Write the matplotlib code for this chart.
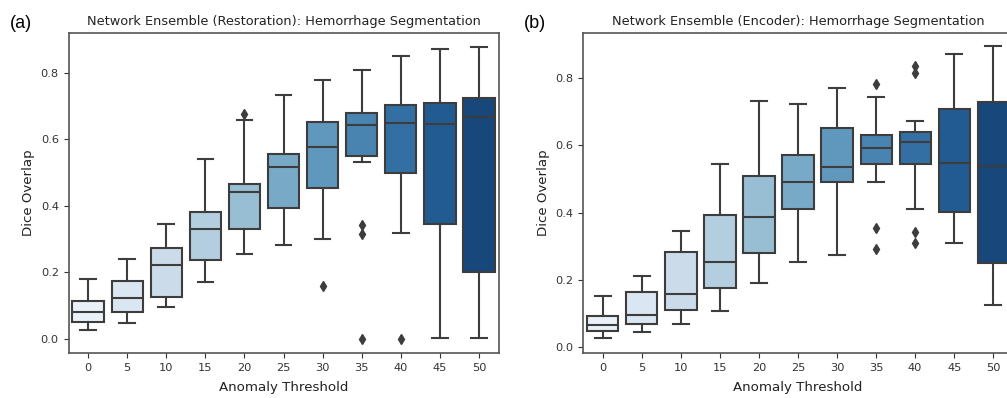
import matplotlib
matplotlib.use("Agg")
import matplotlib.pyplot as plt
import seaborn as sns

thresholds = [0, 5, 10, 15, 20, 25, 30, 35, 40, 45, 50]

# Panel (a): Restoration
a_whislo = [0.027, 0.047, 0.095, 0.171, 0.254, 0.283, 0.301, 0.533, 0.317, 0.002, 0.002]
a_q1     = [0.052, 0.081, 0.126, 0.238, 0.329, 0.393, 0.454, 0.550, 0.499, 0.344, 0.202]
a_med    = [0.080, 0.124, 0.223, 0.329, 0.441, 0.518, 0.577, 0.643, 0.648, 0.645, 0.667]
a_q3     = [0.114, 0.174, 0.274, 0.382, 0.466, 0.555, 0.651, 0.679, 0.703, 0.709, 0.723]
a_whishi = [0.181, 0.239, 0.346, 0.541, 0.659, 0.734, 0.778, 0.807, 0.849, 0.870, 0.877]
a_fliers = [[], [], [], [], [0.675], [], [0.158], [0.342, 0.315, 0.0], [0.0], [], []]

# Panel (b): Encoder
b_whislo = [0.027, 0.045, 0.068, 0.107, 0.192, 0.252, 0.275, 0.490, 0.412, 0.311, 0.126]
b_q1     = [0.048, 0.068, 0.112, 0.177, 0.281, 0.410, 0.490, 0.546, 0.544, 0.402, 0.249]
b_med    = [0.066, 0.097, 0.159, 0.252, 0.386, 0.490, 0.535, 0.593, 0.611, 0.549, 0.538]
b_q3     = [0.094, 0.163, 0.284, 0.392, 0.508, 0.570, 0.653, 0.632, 0.641, 0.708, 0.728]
b_whishi = [0.153, 0.213, 0.347, 0.546, 0.733, 0.722, 0.772, 0.743, 0.672, 0.872, 0.894]
b_fliers = [[], [], [], [], [], [], [], [0.781, 0.353, 0.291], [0.836, 0.814, 0.343, 0.311], [], []]

titles = ["Network Ensemble (Restoration): Hemorrhage Segmentation",
          "Network Ensemble (Encoder): Hemorrhage Segmentation"]
panel_labels = ["(a)", "(b)"]

pal = [sns.desaturate(c, 0.75) for c in sns.color_palette("Blues", len(thresholds))]
line_col = "#3d3d3d"

fig = plt.figure(figsize=(10.07, 3.98), dpi=100)
W, H = 1007, 398
axes = [fig.add_axes([68.5 / W, 1 - 353 / H, 430 / W, 320 / H]),
        fig.add_axes([583.3 / W, 1 - 353 / H, 429.5 / W, 320 / H])]

datasets = [(a_whislo, a_q1, a_med, a_q3, a_whishi, a_fliers),
            (b_whislo, b_q1, b_med, b_q3, b_whishi, b_fliers)]
ylims = [(-0.042, 0.919), (-0.017, 0.934)]

for ax, data, title, yl in zip(axes, datasets, titles, ylims):
    lo, q1, med, q3, hi, fl = data
    stats = []
    for i in range(len(thresholds)):
        stats.append(dict(whislo=lo[i], q1=q1[i], med=med[i], q3=q3[i],
                          whishi=hi[i], fliers=fl[i], label=str(thresholds[i])))
    bp = ax.bxp(stats, positions=range(len(thresholds)), widths=0.8,
                patch_artist=True, showfliers=True,
                boxprops=dict(edgecolor=line_col, linewidth=1.5),
                medianprops=dict(color=line_col, linewidth=1.5),
                whiskerprops=dict(color=line_col, linewidth=1.5),
                capprops=dict(color=line_col, linewidth=1.5),
                flierprops=dict(marker="d", markerfacecolor=line_col,
                                markeredgecolor=line_col, markersize=5))
    for patch, c in zip(bp["boxes"], pal):
        patch.set_facecolor(c)
    ax.set_xlim(-0.5, len(thresholds) - 0.5)
    ax.set_ylim(*yl)
    ax.set_yticks([0.0, 0.2, 0.4, 0.6, 0.8])
    ax.set_xticks(range(len(thresholds)))
    ax.set_xticklabels([str(t) for t in thresholds])
    ax.tick_params(labelsize=8.2, colors="#333333", length=3.5, width=0.8)
    for s in ax.spines.values():
        s.set_color("#555555")
        s.set_linewidth(1.2)
    ax.set_title(title, fontsize=9.3, color="#222222", pad=6)
    ax.set_xlabel("Anomaly Threshold", fontsize=9.6, color="#222222", labelpad=6)
    ax.set_ylabel("Dice Overlap", fontsize=9.6, color="#222222")

fig.text(10 / W, 1 - 24 / H, panel_labels[0], fontsize=13, family="Liberation Sans", va="center", ha="left")
fig.text(524 / W, 1 - 24 / H, panel_labels[1], fontsize=13, family="Liberation Sans", va="center", ha="left")

fig.savefig("out.png", dpi=100)
